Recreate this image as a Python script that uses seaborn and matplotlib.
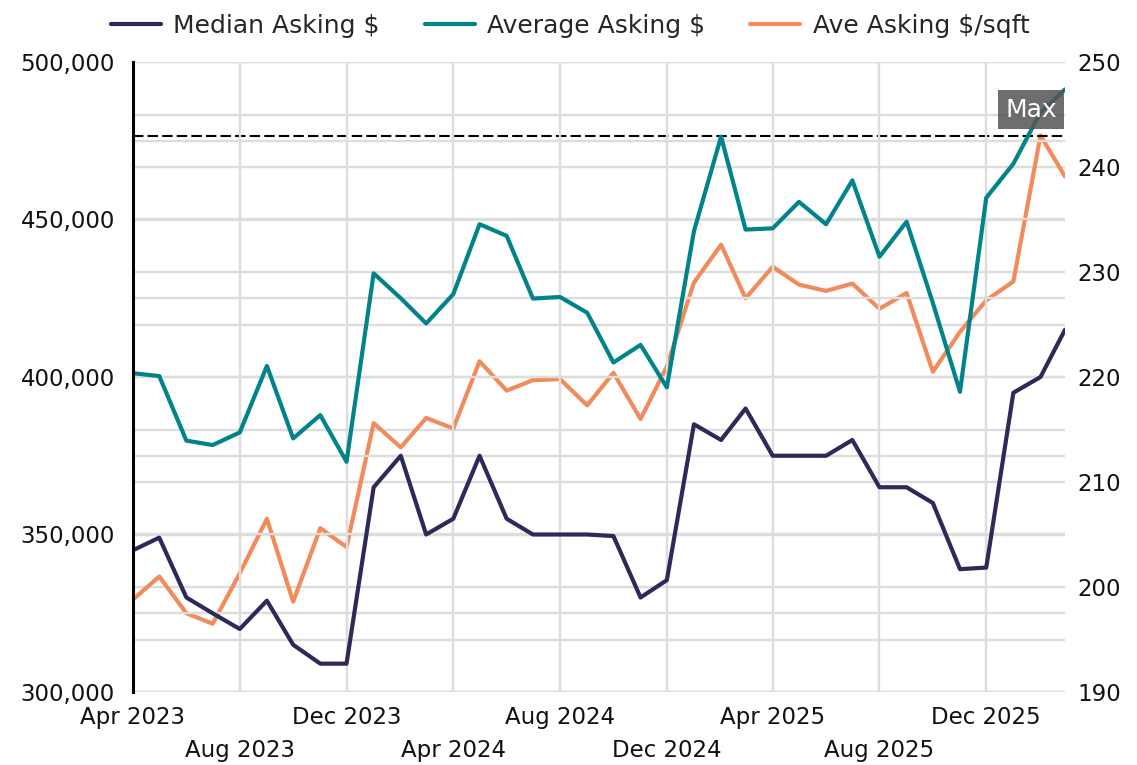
import pandas as pd
import numpy as np
import matplotlib
matplotlib.use("Agg")
import matplotlib.pyplot as plt
from matplotlib.ticker import MultipleLocator, FuncFormatter
import seaborn as sns

# monthly listing stats, Apr 2023 - Mar 2026
months = pd.date_range("2023-04-01", periods=36, freq="MS")

median_asking = [345000, 349000, 330000, 325000, 320000, 329000, 315000, 309000, 309000,
                 365000, 375000, 350000, 355000, 375000, 355000, 350000, 350000, 350000,
                 349500, 330000, 335500, 385000, 380000, 390000, 375000, 375000, 375000,
                 380000, 365000, 365000, 360000, 339000, 339500, 395000, 400000, 415000]

average_asking = [401200, 400300, 379800, 378400, 382400, 403500, 380500, 387900, 373100,
                  432900, 425000, 417000, 426300, 448500, 444800, 424900, 425400, 420400,
                  404600, 410200, 396700, 446300, 476300, 446800, 447200, 455600, 448500,
                  462400, 438200, 449300, 423500, 395300, 456900, 467700, 484000, 491300]

ave_sqft = [198.8, 201.0, 197.5, 196.5, 201.3, 206.5, 198.6, 205.6, 203.8,
            215.6, 213.3, 216.1, 215.1, 221.5, 218.7, 219.7, 219.8, 217.3,
            220.4, 216.0, 221.0, 229.0, 232.6, 227.5, 230.5, 228.8, 228.2,
            228.9, 226.5, 228.0, 220.5, 224.3, 227.3, 229.1, 243.0, 239.1]

labels = ["Median Asking $", "Average Asking $", "Ave Asking $/sqft"]
colors = ["#2b2a5b", "#00838a", "#f28b5b"]

df = pd.DataFrame({"month": months, "median": median_asking,
                   "average": average_asking, "sqft": ave_sqft})

sns.set_theme(style="white")
plt.rcParams["font.family"] = ["DejaVu Sans"]

fig = plt.figure(figsize=(11.37, 7.65), dpi=100)
ax = fig.add_axes([133 / 1137, 73 / 765, 932 / 1137, 630 / 765])
ax2 = ax.twinx()

# right axis behind, so its grid sits under the $ lines
ax.set_zorder(ax2.get_zorder() + 1)
ax.patch.set_visible(False)

lw = 3.0
sns.lineplot(data=df, x="month", y="median", ax=ax, color=colors[0], linewidth=lw, label=labels[0], legend=False)
sns.lineplot(data=df, x="month", y="average", ax=ax, color=colors[1], linewidth=lw, label=labels[1], legend=False)
sns.lineplot(data=df, x="month", y="sqft", ax=ax2, color=colors[2], linewidth=lw, label=labels[2], legend=False)

ax.set_xlim(months[0], months[-1])
ax.set_ylim(300000, 500000)
ax2.set_ylim(190, 250)

ax.yaxis.set_major_locator(MultipleLocator(50000))
ax.yaxis.set_minor_locator(MultipleLocator(25000))
ax.yaxis.set_major_formatter(FuncFormatter(lambda v, p: f"{v:,.0f}"))
ax2.yaxis.set_major_locator(MultipleLocator(10))
ax2.yaxis.set_minor_locator(MultipleLocator(5))

tick_months = months[::4]
ax.set_xticks(tick_months)
ax.set_xticklabels([("" if i % 2 == 0 else "\n") + d.strftime("%b %Y")
                    for i, d in enumerate(tick_months)])
for t in ax.get_xticklabels():
    t.set_linespacing(1.55)

grid_kw = dict(color="#dddddd", lw=1.7)
ax.grid(True, which="both", axis="y", **grid_kw)
ax.grid(True, which="major", axis="x", **grid_kw)
ax2.grid(True, which="both", axis="y", **grid_kw)
ax2.grid(False, axis="x")

for a in (ax, ax2):
    for s in a.spines.values():
        s.set_visible(False)
ax.spines["left"].set_visible(True)
ax.spines["left"].set_color("black")
ax.spines["left"].set_linewidth(2.2)

fs = 16.5
ax.tick_params(axis="both", which="both", length=0, labelsize=fs, colors="#111111")
ax.tick_params(axis="y", pad=13)
ax.tick_params(axis="x", pad=10)
ax2.tick_params(axis="y", which="both", length=0, labelsize=fs, colors="#111111", pad=9)
ax.set_xlabel("")
ax.set_ylabel("")
ax2.set_ylabel("")

# max reference line for $/sqft
max_sqft = max(ave_sqft)
ax2.axhline(max_sqft, color="black", lw=1.5, ls=(0, (5, 2)), zorder=5)
ax.annotate("Max", xy=(1, (max_sqft - 190) / 60), xycoords="axes fraction",
            xytext=(-6, 10), textcoords="offset points", ha="right", va="bottom",
            fontsize=18, color="white", zorder=10,
            bbox=dict(boxstyle="square,pad=0.3", fc="#555555", ec="none", alpha=0.85))

h1, l1 = ax.get_legend_handles_labels()
h2, l2 = ax2.get_legend_handles_labels()
fig.legend(h1 + h2, l1 + l2, loc="center", bbox_to_anchor=(570 / 1137, 1 - 26 / 765),
           ncol=3, frameon=False, fontsize=18, handlelength=2.0, handletextpad=0.5,
           columnspacing=1.8)

fig.savefig("out.png", dpi=100)
